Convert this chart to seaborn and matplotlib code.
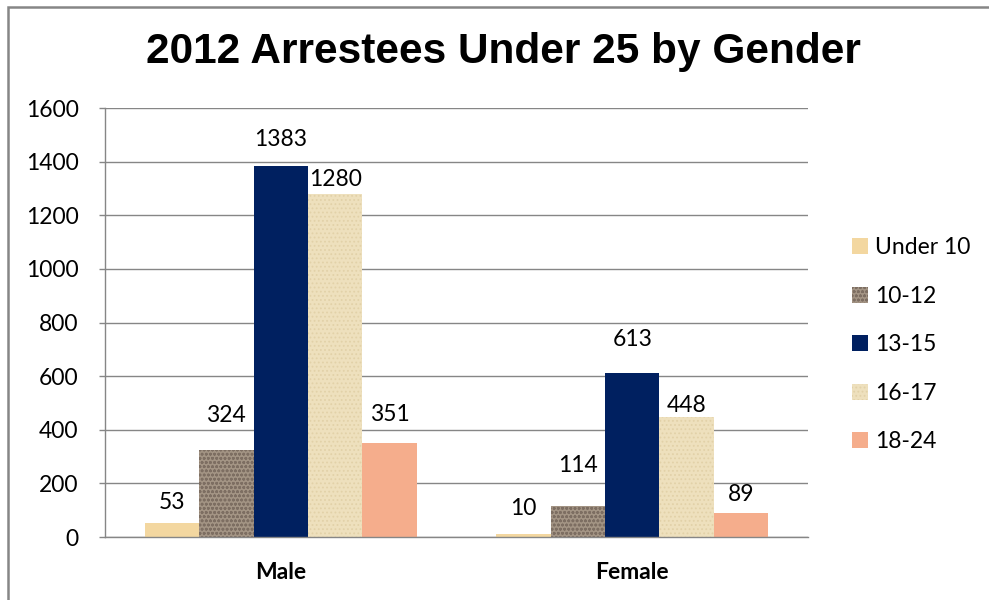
import matplotlib
matplotlib.use("Agg")
import matplotlib.pyplot as plt
import seaborn as sns
import pandas as pd
from matplotlib.patches import Rectangle

genders = ["Male", "Female"]
age_groups = ["Under 10", "10-12", "13-15", "16-17", "18-24"]
under_10 = [53, 10]
age_10_12 = [324, 114]
age_13_15 = [1383, 613]
age_16_17 = [1280, 448]
age_18_24 = [351, 89]
y_ticks = [0, 200, 400, 600, 800, 1000, 1200, 1400, 1600]

series = [under_10, age_10_12, age_13_15, age_16_17, age_18_24]
rows = []
for grp, vals in zip(age_groups, series):
    for g, v in zip(genders, vals):
        rows.append({"Gender": g, "Age": grp, "Arrestees": v})
df = pd.DataFrame(rows)

colors = ["#f3d7a0", "#a39484", "#002060", "#eee0bd", "#f5ad8c"]
hatches = [None, "oooo", None, "....", None]
hatch_colors = [None, "#7d6e62", None, "#e2d1a8", None]
# vertical offset (pixels) of each value label centre above the bar top
label_offsets = [[20, 26], [35, 41], [27, 33], [14, 11], [28, 19]]

sns.set_theme(style="white")
plt.rcParams["font.family"] = ["Lato", "DejaVu Sans"]
plt.rcParams["hatch.linewidth"] = 0.8
for k in ["text.color", "axes.labelcolor", "xtick.labelcolor", "ytick.labelcolor"]:
    plt.rcParams[k] = "black"

fig = plt.figure(figsize=(9.89, 6.0), dpi=100)
ax = fig.add_axes([105 / 989, 1 - 537 / 600, (808 - 105) / 989, (537 - 108) / 600])

sns.barplot(data=df, x="Gender", y="Arrestees", hue="Age", order=genders,
            hue_order=age_groups, palette=colors, width=0.775, gap=0,
            saturation=1, ax=ax, legend=True, linewidth=0, errorbar=None)

for ci, cont in enumerate(ax.containers):
    for bi, bar in enumerate(cont):
        bar.set_linewidth(0)
        if hatches[ci]:
            bar.set_hatch(hatches[ci])
            bar.set_edgecolor(hatch_colors[ci])
        val = series[ci][bi]
        ax.annotate(f"{val}", xy=(bar.get_x() + bar.get_width() / 2, val),
                    xytext=(0, label_offsets[ci][bi] * 0.72), textcoords="offset points",
                    ha="center", va="center", fontsize=16.5, color="black")

ax.set_ylim(0, 1600)
ax.set_yticks(y_ticks)
ax.set_xlim(-0.5, 1.5)
ax.yaxis.grid(True, color="#868686", linewidth=1.0)
ax.set_axisbelow(True)
for s in ["top", "right"]:
    ax.spines[s].set_visible(False)
for s in ["left", "bottom"]:
    ax.spines[s].set_color("#868686")
    ax.spines[s].set_linewidth(1.0)
ax.tick_params(axis="y", which="both", left=True, length=4, width=1.0,
               color="#868686", labelsize=16.5, pad=15, labelcolor="black")
ax.tick_params(axis="x", bottom=False, labelsize=16.5, pad=12, labelcolor="black")
for lbl in ax.get_xticklabels():
    lbl.set_fontweight("bold")
ax.set_xlabel("")
ax.set_ylabel("")

handles, labels = ax.get_legend_handles_labels()
for i, h in enumerate(handles):
    h.set_linewidth(0)
    if hatches[i]:
        h.set_hatch(hatches[i])
        h.set_edgecolor(hatch_colors[i])
leg = ax.legend(handles, labels, loc="upper left", bbox_to_anchor=(843 / 989, 1 - 228 / 600),
                bbox_transform=fig.transFigure, frameon=False, fontsize=16.5,
                handlelength=0.7, handleheight=0.7, handletextpad=0.3,
                labelspacing=1.2, borderaxespad=0)

fig.text(503 / 989, 1 - 52 / 600, "2012 Arrestees Under 25 by Gender",
         ha="center", va="center", fontsize=30.5, fontweight="bold", color="black",
         family=["Liberation Sans", "DejaVu Sans"])

fig.patches.append(Rectangle((7.5 / 989, -0.5), 2.0, 0.5 + 1 - 6.5 / 600,
                             transform=fig.transFigure, fill=False,
                             edgecolor="#868686", linewidth=1.8))

fig.savefig("out.png", dpi=100)
